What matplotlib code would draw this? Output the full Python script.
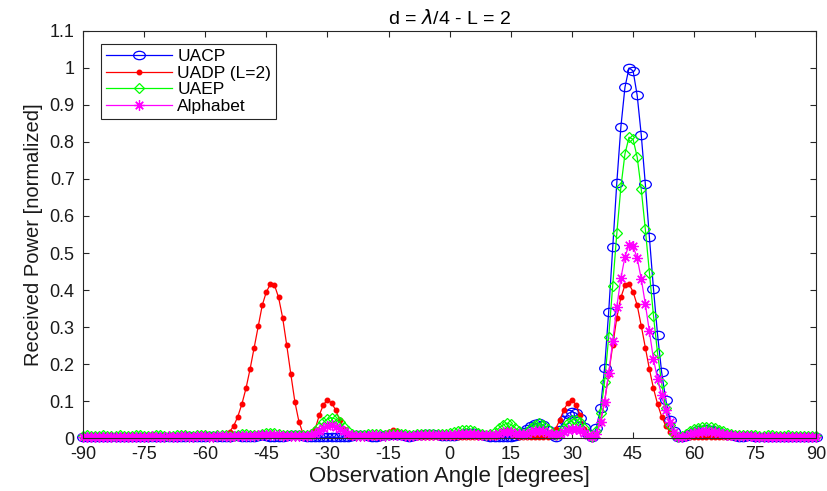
import numpy as np
import matplotlib
matplotlib.use("Agg")
import matplotlib.pyplot as plt
from matplotlib.path import Path

# ---------------- data ----------------
angles = np.arange(-90, 91, 1)

uacp = [
    0.003, 0.002, 0.003, 0.004, 0.003, 0.002, 0.003, 0.004, 0.003, 0.002,
    0.003, 0.004, 0.003, 0.002, 0.003, 0.004, 0.004, 0.003, 0.002, 0.003,
    0.004, 0.004, 0.003, 0.002, 0.003, 0.004, 0.005, 0.004, 0.003, 0.002,
    0.003, 0.005, 0.005, 0.004, 0.002, 0.002, 0.004, 0.006, 0.005, 0.003,
    0.002, 0.002, 0.004, 0.006, 0.007, 0.006, 0.004, 0.003, 0.002, 0.003,
    0.005, 0.007, 0.008, 0.007, 0.005, 0.003, 0.002, 0.002, 0.002, 0.002,
    0.002, 0.002, 0.002, 0.002, 0.003, 0.004, 0.006, 0.008, 0.008, 0.007,
    0.005, 0.004, 0.004, 0.005, 0.007, 0.009, 0.010, 0.009, 0.007, 0.005,
    0.004, 0.005, 0.007, 0.009, 0.011, 0.011, 0.010, 0.008, 0.006, 0.005,
    0.005, 0.006, 0.008, 0.011, 0.013, 0.014, 0.013, 0.011, 0.008, 0.005,
    0.003, 0.002, 0.002, 0.002, 0.002, 0.003, 0.005, 0.009, 0.016, 0.025,
    0.032, 0.038, 0.040, 0.035, 0.022, 0.008, 0.003, 0.022, 0.048, 0.066,
    0.071, 0.067, 0.053, 0.030, 0.010, 0.003, 0.028, 0.080, 0.189, 0.340,
    0.515, 0.690, 0.841, 0.948, 1.000, 0.992, 0.926, 0.819, 0.686, 0.542,
    0.403, 0.279, 0.178, 0.104, 0.050, 0.020, 0.004, 0.002, 0.006, 0.012,
    0.017, 0.021, 0.023, 0.024, 0.023, 0.020, 0.016, 0.012, 0.009, 0.007,
    0.005, 0.004, 0.004, 0.005, 0.005, 0.004, 0.003, 0.003, 0.004, 0.004,
    0.003, 0.003, 0.003, 0.004, 0.003, 0.002, 0.003, 0.003, 0.002, 0.003, 0.003,
]

uadp = [
    0.002, 0.002, 0.003, 0.003, 0.002, 0.002, 0.003, 0.003, 0.002, 0.002,
    0.003, 0.003, 0.002, 0.002, 0.003, 0.004, 0.003, 0.002, 0.002, 0.003,
    0.004, 0.003, 0.002, 0.002, 0.003, 0.004, 0.004, 0.003, 0.002, 0.002,
    0.003, 0.004, 0.003, 0.002, 0.002, 0.005, 0.017, 0.033, 0.058, 0.092,
    0.134, 0.186, 0.244, 0.303, 0.359, 0.395, 0.416, 0.413, 0.380, 0.325,
    0.251, 0.173, 0.098, 0.044, 0.012, 0.002, 0.006, 0.025, 0.062, 0.090,
    0.103, 0.095, 0.076, 0.049, 0.025, 0.008, 0.002, 0.002, 0.003, 0.003,
    0.003, 0.002, 0.002, 0.003, 0.008, 0.016, 0.022, 0.020, 0.012, 0.004,
    0.002, 0.002, 0.003, 0.004, 0.004, 0.003, 0.002, 0.002, 0.003, 0.003,
    0.003, 0.003, 0.002, 0.002, 0.003, 0.004, 0.004, 0.003, 0.002, 0.002,
    0.002, 0.004, 0.012, 0.020, 0.022, 0.016, 0.008, 0.003, 0.002, 0.002,
    0.003, 0.003, 0.002, 0.002, 0.002, 0.008, 0.025, 0.049, 0.076, 0.095,
    0.103, 0.090, 0.062, 0.025, 0.006, 0.002, 0.012, 0.044, 0.098, 0.173,
    0.251, 0.325, 0.380, 0.413, 0.416, 0.395, 0.359, 0.303, 0.244, 0.186,
    0.134, 0.092, 0.058, 0.033, 0.017, 0.005, 0.002, 0.002, 0.003, 0.004,
    0.003, 0.002, 0.002, 0.003, 0.004, 0.004, 0.003, 0.002, 0.002, 0.003,
    0.004, 0.003, 0.002, 0.002, 0.003, 0.003, 0.002, 0.002, 0.003, 0.003,
    0.002, 0.002, 0.003, 0.003, 0.002, 0.002, 0.003, 0.003, 0.002, 0.002, 0.002,
]

uaep = [
    0.006, 0.007, 0.006, 0.005, 0.006, 0.007, 0.006, 0.005, 0.006, 0.007,
    0.006, 0.005, 0.006, 0.007, 0.007, 0.006, 0.005, 0.006, 0.007, 0.007,
    0.006, 0.005, 0.006, 0.008, 0.008, 0.007, 0.005, 0.006, 0.008, 0.009,
    0.008, 0.006, 0.006, 0.008, 0.009, 0.008, 0.006, 0.006, 0.008, 0.010,
    0.010, 0.008, 0.007, 0.008, 0.011, 0.013, 0.014, 0.013, 0.011, 0.009,
    0.007, 0.007, 0.008, 0.009, 0.009, 0.009, 0.012, 0.019, 0.030, 0.042,
    0.052, 0.055, 0.051, 0.042, 0.030, 0.019, 0.012, 0.009, 0.008, 0.009,
    0.010, 0.011, 0.011, 0.010, 0.009, 0.010, 0.012, 0.013, 0.012, 0.010,
    0.009, 0.009, 0.010, 0.011, 0.012, 0.012, 0.011, 0.010, 0.010, 0.011,
    0.013, 0.016, 0.019, 0.021, 0.022, 0.021, 0.018, 0.014, 0.010, 0.008,
    0.010, 0.016, 0.026, 0.035, 0.040, 0.037, 0.028, 0.018, 0.012, 0.016,
    0.026, 0.036, 0.040, 0.035, 0.024, 0.013, 0.008, 0.014, 0.028, 0.041,
    0.049, 0.050, 0.043, 0.027, 0.011, 0.003, 0.020, 0.067, 0.152, 0.272,
    0.411, 0.553, 0.678, 0.768, 0.813, 0.807, 0.759, 0.672, 0.564, 0.447,
    0.330, 0.229, 0.148, 0.080, 0.035, 0.012, 0.003, 0.005, 0.011, 0.018,
    0.024, 0.028, 0.031, 0.031, 0.029, 0.026, 0.022, 0.018, 0.014, 0.011,
    0.009, 0.008, 0.008, 0.008, 0.007, 0.007, 0.006, 0.006, 0.007, 0.007,
    0.006, 0.006, 0.006, 0.007, 0.006, 0.006, 0.005, 0.006, 0.006, 0.006, 0.006,
]

alphabet = [
    0.004, 0.004, 0.003, 0.004, 0.004, 0.003, 0.004, 0.004, 0.003, 0.004,
    0.004, 0.003, 0.004, 0.004, 0.004, 0.003, 0.004, 0.005, 0.004, 0.003,
    0.004, 0.005, 0.004, 0.004, 0.005, 0.005, 0.004, 0.004, 0.005, 0.005,
    0.005, 0.004, 0.004, 0.005, 0.006, 0.005, 0.004, 0.005, 0.006, 0.006,
    0.005, 0.005, 0.006, 0.007, 0.008, 0.009, 0.009, 0.008, 0.007, 0.006,
    0.005, 0.005, 0.006, 0.006, 0.006, 0.006, 0.008, 0.012, 0.018, 0.026,
    0.032, 0.034, 0.031, 0.025, 0.018, 0.012, 0.008, 0.006, 0.006, 0.006,
    0.006, 0.007, 0.007, 0.006, 0.006, 0.007, 0.008, 0.008, 0.007, 0.006,
    0.006, 0.006, 0.007, 0.007, 0.008, 0.008, 0.007, 0.007, 0.007, 0.007,
    0.008, 0.009, 0.010, 0.011, 0.012, 0.012, 0.011, 0.009, 0.008, 0.007,
    0.007, 0.009, 0.012, 0.015, 0.016, 0.015, 0.012, 0.010, 0.010, 0.012,
    0.016, 0.019, 0.020, 0.018, 0.014, 0.010, 0.008, 0.010, 0.016, 0.022,
    0.025, 0.025, 0.021, 0.014, 0.007, 0.003, 0.010, 0.044, 0.098, 0.175,
    0.262, 0.355, 0.432, 0.490, 0.522, 0.518, 0.486, 0.430, 0.362, 0.288,
    0.213, 0.160, 0.115, 0.075, 0.042, 0.017, 0.004, 0.003, 0.006, 0.010,
    0.013, 0.016, 0.017, 0.018, 0.017, 0.015, 0.013, 0.010, 0.008, 0.007,
    0.006, 0.005, 0.005, 0.005, 0.005, 0.004, 0.004, 0.004, 0.004, 0.004,
    0.004, 0.004, 0.004, 0.004, 0.004, 0.004, 0.004, 0.004, 0.004, 0.004, 0.004,
]

series_names = ["UACP", "UADP (L=2)", "UAEP", "Alphabet"]
x_ticks = [-90, -75, -60, -45, -30, -15, 0, 15, 30, 45, 60, 75, 90]
y_ticks = [0, 0.1, 0.2, 0.3, 0.4, 0.5, 0.6, 0.7, 0.8, 0.9, 1.0, 1.1]
y_tick_labels = ["0", "0.1", "0.2", "0.3", "0.4", "0.5", "0.6", "0.7", "0.8", "0.9", "1", "1.1"]

# ---------------- style ----------------
plt.rcParams["font.family"] = ["Liberation Sans", "DejaVu Sans"]
plt.rcParams["mathtext.fontset"] = "dejavusans"

fig = plt.figure(figsize=(8.28, 4.91), dpi=100)
ax = fig.add_axes([0.1002, 0.1079, 0.8859, 0.829])

circ = Path.unit_circle()
ellipse = Path(circ.vertices * np.array([1.0, 0.72]), circ.codes)

lw = 0.9
ax.plot(angles, uacp, color=(0, 0, 1), lw=lw, marker=ellipse, ms=8.4,
        mfc="none", mec=(0, 0, 1), mew=0.9, label=series_names[0], clip_on=False)
ax.plot(angles, uadp, color=(1, 0, 0), lw=lw, marker=".", ms=6.5,
        mfc=(1, 0, 0), mec=(1, 0, 0), label=series_names[1], clip_on=False)
ax.plot(angles, uaep, color=(0, 1, 0), lw=lw, marker="D", ms=5.6,
        mfc="none", mec=(0, 1, 0), mew=0.9, label=series_names[2], clip_on=False)
ax.plot(angles, alphabet, color=(1, 0, 1), lw=lw, marker=(8, 2, 0), ms=7.5,
        mec=(1, 0, 1), mew=0.9, label=series_names[3], clip_on=False)

ax.set_xlim(-90, 90)
ax.set_ylim(0, 1.1)
ax.set_xticks(x_ticks)
ax.set_xticklabels([str(t) for t in x_ticks])
ax.set_yticks(y_ticks)
ax.set_yticklabels(y_tick_labels)

spine_c = (0.15, 0.15, 0.15)
for s in ax.spines.values():
    s.set_color(spine_c)
    s.set_linewidth(0.8)
ax.tick_params(direction="in", length=4, width=0.8, colors=spine_c,
               labelsize=13, top=True, right=True, pad=6)
for lab in ax.get_xticklabels() + ax.get_yticklabels():
    lab.set_color((0.1, 0.1, 0.1))

ax.set_xlabel("Observation Angle [degrees]", fontsize=16, color=(0.1, 0.1, 0.1), labelpad=2)
ax.set_ylabel("Received Power [normalized]", fontsize=14.5, color=(0.1, 0.1, 0.1), labelpad=5)
ax.set_title(r"d = $\lambda$/4 - L = 2", fontsize=14, color="black", pad=5)

leg = ax.legend(loc="upper left", bbox_to_anchor=(0.0245, 0.968), borderaxespad=0,
                fontsize=12.5, handlelength=3.8, fancybox=False, framealpha=1,
                edgecolor=spine_c, borderpad=0.3, labelspacing=0.08,
                handletextpad=0.3)
leg.get_frame().set_linewidth(0.8)

fig.savefig("out.png", dpi=100)
